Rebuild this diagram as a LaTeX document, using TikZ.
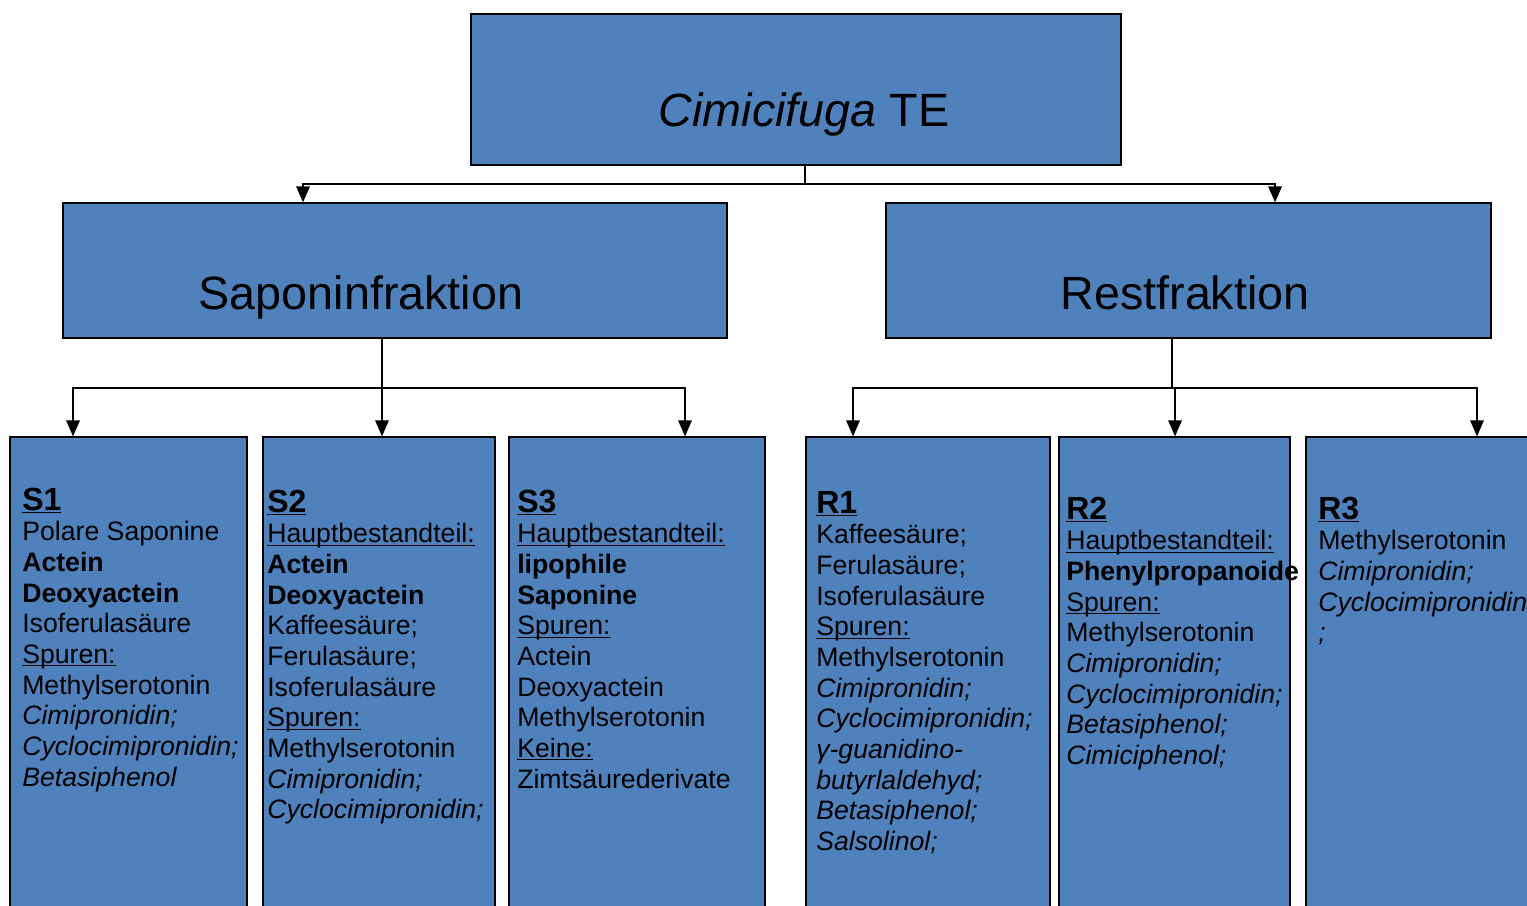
\documentclass[tikz,border=0pt]{standalone}
\usepackage{fontspec}
\setmainfont{Liberation Sans}
\usepackage{xcolor}
\usepackage{tikz}
\usetikzlibrary{positioning,arrows.meta}

\definecolor{fraktblue}{HTML}{4F81BD}
\newcommand\ulx[1]{\underline{\smash{#1}}}
\newcommand\hdr[1]{{\fontsize{24}{23}\selectfont\bfseries\ulx{#1}}}

\begin{document}
\begin{tikzpicture}[x=0.75pt,y=-0.75pt,
	box/.style={draw=black, line width=0.9pt, fill=fraktblue, inner sep=0pt},
	big/.style={font=\fontsize{35}{40}\selectfont, anchor=base},
	info/.style={anchor=north west, inner sep=0pt, align=left, font=\fontsize{20}{23}\selectfont},
	arr/.style={line width=1.5pt, -{Triangle[length=12pt,width=10pt]}}]
		\useasboundingbox (0,0) rectangle (1527,906);
		\clip (0,0) rectangle (1527,906);
		
		% obere Ebene
		\node[box, minimum width=487.5pt, minimum height=113.25pt,
			label={[big, name=te-txt, xshift=6pt, yshift=-18.5pt]center:{\textit{Cimicifuga} TE}}] (te) at (796,89.5) {};
		\node[box, minimum width=498pt, minimum height=101.25pt,
			label={[big, name=sap-txt, xshift=-25.5pt, yshift=-19.9pt]center:Saponinfraktion}] (sap) at (395,270.5) {};
		\node[box, minimum width=453.75pt, minimum height=101.25pt,
			label={[big, name=rest-txt, xshift=-2.6pt, yshift=-16.9pt]center:Restfraktion}] (rest) at (1188.5,270.5) {};
		
		% Fraktionen
		\node[box, minimum width=177.75pt, minimum height=362.25pt] (s1) at (128.5,678.5) {};
		\node[box, minimum width=174pt, minimum height=362.25pt] (s2) at (379,678.5) {};
		\node[box, minimum width=192pt, minimum height=362.25pt] (s3) at (637,678.5) {};
		\node[box, minimum width=183pt, minimum height=362.25pt] (r1) at (928,678.5) {};
		\node[box, minimum width=173.25pt, minimum height=362.25pt] (r2) at (1174.5,678.5) {};
		\node[box, minimum width=195pt, minimum height=362.25pt] (r3) at (1436,678.5) {};
		
		\node[info] (s1-txt) at (22,510) {\hdr{S1}\\ Polare Saponine\\ \textbf{Actein}\\ \textbf{Deoxyactein}\\ Isoferulasäure\\ \ulx{Spuren:}\\ Methylserotonin\\ \textit{Cimipronidin;}\\ \textit{Cyclocimipronidin;}\\ \textit{Betasiphenol}};
		\node[info] (s2-txt) at (267,512) {\hdr{S2}\\ \ulx{Hauptbestandteil:}\\ \textbf{Actein}\\ \textbf{Deoxyactein}\\ Kaffeesäure;\\ Ferulasäure;\\ Isoferulasäure\\ \ulx{Spuren:}\\ Methylserotonin\\ \textit{Cimipronidin;}\\ \textit{Cyclocimipronidin;}};
		\node[info] (s3-txt) at (517,512) {\hdr{S3}\\ \ulx{Hauptbestandteil:}\\ \textbf{lipophile}\\ \textbf{Saponine}\\ \ulx{Spuren:}\\ Actein\\ Deoxyactein\\ Methylserotonin\\ \ulx{Keine:}\\ Zimtsäurederivate};
		\node[info] (r1-txt) at (816,513) {\hdr{R1}\\ Kaffeesäure;\\ Ferulasäure;\\ Isoferulasäure\\ \ulx{Spuren:}\\ Methylserotonin\\ \textit{Cimipronidin;}\\ \textit{Cyclocimipronidin;}\\ \textit{γ-guanidino-}\\ \textit{butyrlaldehyd;}\\ \textit{Betasiphenol;}\\ \textit{Salsolinol;}};
		\node[info] (r2-txt) at (1066,519) {\hdr{R2}\\ \ulx{Hauptbestandteil:}\\ \textbf{Phenylpropanoide}\\ \ulx{Spuren:}\\ Methylserotonin\\ \textit{Cimipronidin;}\\ \textit{Cyclocimipronidin;}\\ \textit{Betasiphenol;}\\ \textit{Cimiciphenol;}};
		\node[info] (r3-txt) at (1318,519) {\hdr{R3}\\ Methylserotonin\\ \textit{Cimipronidin;}\\ \textit{Cyclocimipronidin}\\ \textit{;}};
		
		% Pfeile
		\draw[arr] ([xshift=6.75pt]te.south) -- ++(0,18) -| ([xshift=-69pt]sap.north);
		\draw[arr] ([xshift=6.75pt]te.south) -- ++(0,18) -| ([xshift=64.9pt]rest.north);
		
		\draw[arr] ([xshift=-9.75pt]sap.south) -- ++(0,49) -| ([xshift=-41.6pt]s1.north);
		\draw[arr] ([xshift=-9.75pt]sap.south) -- ++(0,49) -| ([xshift=2.25pt]s2.north);
		\draw[arr] ([xshift=-9.75pt]sap.south) -- ++(0,49) -| ([xshift=36pt]s3.north);
		
		\draw[arr] ([xshift=-12.4pt]rest.south) -- ++(0,49) -| ([xshift=-56.25pt]r1.north);
		\draw[arr] ([xshift=-12.4pt]rest.south) -- ++(0,49) -| ([xshift=0.4pt]r2.north);
		\draw[arr] ([xshift=-12.4pt]rest.south) -- ++(0,49) -| ([xshift=30.75pt]r3.north);
	\end{tikzpicture}
\end{document}
